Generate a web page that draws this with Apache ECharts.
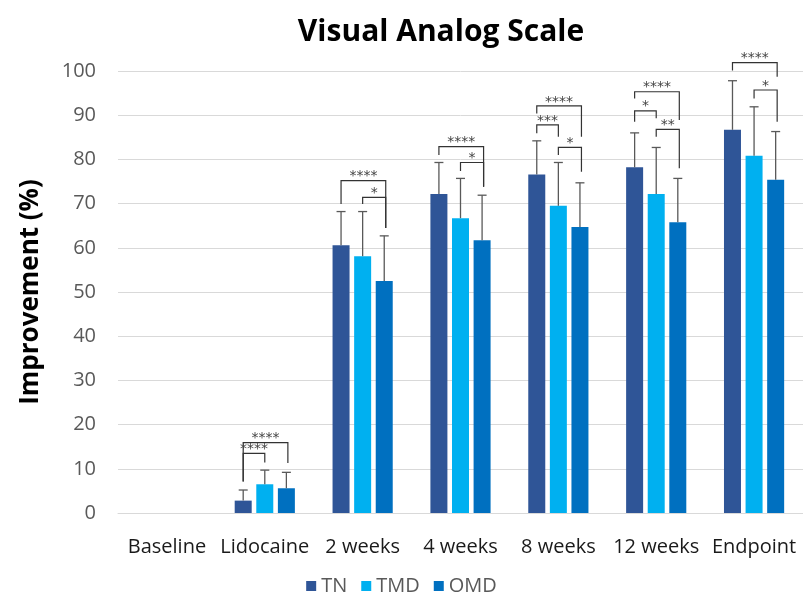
<!DOCTYPE html>
<html>
<head>
<meta charset="utf-8">
<script src="https://cdn.jsdelivr.net/npm/echarts@6/dist/echarts.min.js"></script>
<style>
html,body{margin:0;padding:0;background:#fff}
#chart{width:803px;height:597px}
</style>
</head>
<body>
<div id="chart"></div>
<script>
// data
const categories = ['Baseline', 'Lidocaine', '2 weeks', '4 weeks', '8 weeks', '12 weeks', 'Endpoint'];
const groupNames = ['TN', 'TMD', 'OMD'];
const tnMean  = [null, 2.8, 60.6, 72.2, 76.6, 78.2, 86.7];
const tmdMean = [null, 6.5, 58.1, 66.7, 69.5, 72.2, 80.8];
const omdMean = [null, 5.6, 52.5, 61.7, 64.7, 65.8, 75.4];
// top of the error bars
const tnUpper  = [null, 5.2, 68.2, 79.3, 84.2, 86.0, 97.8];
const tmdUpper = [null, 9.7, 68.2, 75.7, 79.3, 82.7, 91.9];
const omdUpper = [null, 9.2, 62.7, 71.9, 74.7, 75.7, 86.3];
const yTicks = [0, 10, 20, 30, 40, 50, 60, 70, 80, 90, 100];
// significance brackets: [category, fromGroup, toGroup, level, leftLegEnd, rightLegEnd, stars]
const brackets = [
  [1, 0, 2, 15.9, 7.1, 11.3, '****'],
  [1, 0, 1, 13.5, 7.1, 11.4, '****'],
  [2, 0, 2, 75.2, 69.9, 64.5, '****'],
  [2, 1, 2, 71.4, 69.9, 64.5, '*'],
  [3, 0, 2, 82.9, 81.0, 73.8, '****'],
  [3, 1, 2, 79.3, 77.4, 73.8, '*'],
  [4, 0, 2, 92.1, 90.4, 85.1, '****'],
  [4, 0, 1, 87.8, 85.9, 85.1, '***'],
  [4, 1, 2, 82.7, 81.0, 77.2, '*'],
  [5, 0, 2, 95.3, 93.8, 88.9, '****'],
  [5, 0, 1, 91.0, 88.5, 89.3, '*'],
  [5, 1, 2, 86.8, 85.1, 78.0, '**'],
  [6, 0, 2, 101.9, 100.1, 98.7, '****'],
  [6, 1, 2, 95.7, 93.8, 88.5, '*']
];

const colors = ['#2F5597', '#00B0F0', '#0070C0'];
const means = [tnMean, tmdMean, omdMean];
const uppers = [tnUpper, tmdUpper, omdUpper];
const BAR_W = 17;
const BAR_GAP = 0.27;
const FONT = '"Open Sans", "Noto Sans", sans-serif';

function barOffset(g) {
  return (g - 1) * BAR_W * (1 + BAR_GAP);
}

const chart = echarts.init(document.getElementById('chart'));

const barSeries = groupNames.map((name, g) => ({
  name: name,
  type: 'bar',
  data: means[g],
  barWidth: BAR_W,
  barGap: (BAR_GAP * 100) + '%',
  itemStyle: {color: colors[g]},
  z: 2
}));

const errSeries = groupNames.map((name, g) => ({
  name: name + ' err',
  type: 'custom',
  z: 3,
  clip: false,
  data: means[g].map((m, i) => [i, m, uppers[g][i]]),
  renderItem: (params, api) => {
    if (api.value(1) == null || isNaN(api.value(1))) return;
    const lo = api.coord([api.value(0), api.value(1)]);
    const hi = api.coord([api.value(0), api.value(2)]);
    const x = lo[0] + barOffset(g);
    const style = {stroke: '#595959', lineWidth: 1.3};
    return {
      type: 'group',
      children: [
        {type: 'line', shape: {x1: x, y1: lo[1], x2: x, y2: hi[1]}, style},
        {type: 'line', shape: {x1: x - 4.5, y1: hi[1], x2: x + 4.5, y2: hi[1]}, style}
      ]
    };
  }
}));

const bracketSeries = {
  name: 'sig',
  type: 'custom',
  z: 4,
  clip: false,
  data: brackets,
  renderItem: (params, api) => {
    const b = brackets[params.dataIndex];
    const c = api.coord([b[0], b[3]]);
    const xl = c[0] + barOffset(b[1]);
    const xr = c[0] + barOffset(b[2]) + (b[2] === 2 ? 1.5 : 0);
    const yl = api.coord([b[0], b[4]])[1];
    const yr = api.coord([b[0], b[5]])[1];
    return {
      type: 'group',
      children: [
        {
          type: 'polyline',
          shape: {points: [[xl, yl], [xl, c[1]], [xr, c[1]], [xr, yr]]},
          style: {stroke: '#333', lineWidth: 1.2, fill: null}
        },
        {
          type: 'text',
          style: {
            text: b[6], x: (xl + xr) / 2, y: c[1] - 4,
            align: 'center', verticalAlign: 'middle',
            font: '14px "DejaVu Sans"', fill: '#444'
          }
        }
      ]
    };
  }
};

chart.setOption({
  animation: false,
  textStyle: {fontFamily: FONT},
  title: {
    text: 'Visual Analog Scale',
    left: 436, top: 12, textAlign: 'center',
    textStyle: {fontSize: 30, fontWeight: 'bold', color: '#000', fontFamily: FONT}
  },
  legend: {
    data: groupNames,
    top: 571, left: 'center',
    icon: 'rect', itemWidth: 10, itemHeight: 10, itemGap: 14,
    textStyle: {fontSize: 20, color: '#595959', fontFamily: FONT}
  },
  grid: {left: 118, right: 0, top: 71, bottom: 84},
  xAxis: {
    type: 'category',
    data: categories,
    axisLine: {show: true, lineStyle: {color: '#d9d9d9'}},
    axisTick: {show: false},
    axisLabel: {fontSize: 20, color: '#1a1a1a', margin: 24, fontFamily: FONT, interval: 0}
  },
  yAxis: {
    type: 'value',
    min: yTicks[0], max: yTicks[yTicks.length - 1], interval: yTicks[1] - yTicks[0],
    name: 'Improvement (%)',
    nameLocation: 'middle', nameGap: 74, nameRotate: 90,
    nameTextStyle: {fontSize: 26, fontWeight: 'bold', color: '#000', fontFamily: FONT},
    axisLine: {show: false},
    axisTick: {show: false},
    axisLabel: {fontSize: 20, color: '#595959', margin: 22, fontFamily: FONT},
    splitLine: {lineStyle: {color: '#d9d9d9'}}
  },
  series: [...barSeries, ...errSeries, bracketSeries]
});
</script>
</body>
</html>
